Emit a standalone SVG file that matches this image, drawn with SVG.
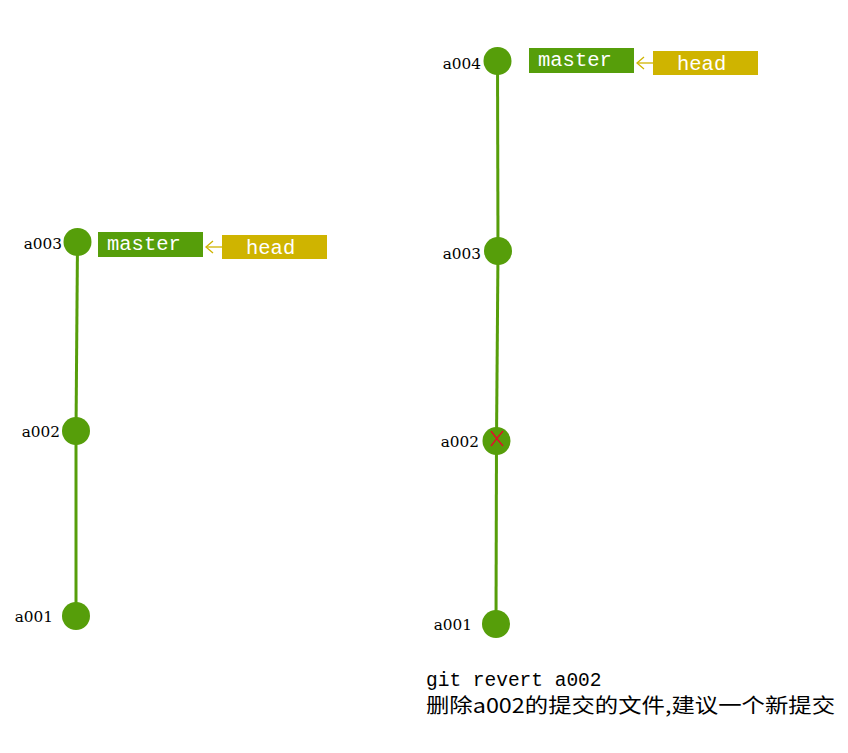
<svg xmlns="http://www.w3.org/2000/svg" width="848" height="753" viewBox="0 0 848 753">
<defs>
<style>
.commit{fill:#569e0a}
.edge{stroke:#569e0a;stroke-width:3;fill:none}
.lbl{font-family:"DejaVu Serif","Liberation Serif",serif;font-size:15.3px;fill:#000}
.master{fill:#569e0a}
.head{fill:#cfb400}
.btxt{font-family:"Liberation Mono",monospace;font-size:20.5px;fill:#fff}
.ptr{stroke:#cfb400;stroke-width:1.3;fill:none}
.note{font-family:"Liberation Mono",monospace;font-size:19.5px;fill:#000}
.cn{font-family:"Noto Sans CJK SC","Liberation Sans",sans-serif;font-size:20px;fill:#000}
</style>
<marker id="openArrow" viewBox="0 0 10 14" refX="8" refY="7" markerWidth="10" markerHeight="14" markerUnits="userSpaceOnUse" orient="auto">
<path d="M1,1 L8,7 L1,13" stroke="#cfb400" stroke-width="1.3" fill="none"/>
</marker>
</defs>
<rect width="848" height="753" fill="#fff"/>
<g id="connectors">
<line class="edge" x1="77.5" y1="242" x2="76" y2="431"/>
<line class="edge" x1="76" y1="431" x2="76" y2="616"/>
<line class="edge" x1="497.5" y1="61" x2="498" y2="251"/>
<line class="edge" x1="498" y1="251" x2="496.5" y2="441"/>
<line class="edge" x1="496.5" y1="441" x2="496" y2="624"/>
<line class="ptr" x1="222" y1="247" x2="206" y2="247" marker-end="url(#openArrow)"/>
<line class="ptr" x1="653" y1="63" x2="637" y2="63" marker-end="url(#openArrow)"/>
</g>
<g id="left-a003">
<circle class="commit" cx="77.5" cy="242" r="14"/>
<text class="lbl" x="62" y="249" text-anchor="end">a003</text>
</g>
<g id="left-a002">
<circle class="commit" cx="76" cy="431" r="14"/>
<text class="lbl" x="60" y="437" text-anchor="end">a002</text>
</g>
<g id="left-a001">
<circle class="commit" cx="76" cy="616" r="14"/>
<text class="lbl" x="53" y="622" text-anchor="end">a001</text>
</g>
<g id="left-master">
<rect class="master" x="98" y="232" width="105" height="25"/>
<text class="btxt" x="107" y="250">master</text>
</g>
<g id="left-head">
<rect class="head" x="222" y="235" width="105" height="24"/>
<text class="btxt" x="246" y="254">head</text>
</g>
<g id="right-a004">
<circle class="commit" cx="497.5" cy="61" r="14"/>
<text class="lbl" x="481" y="69" text-anchor="end">a004</text>
</g>
<g id="right-a003">
<circle class="commit" cx="498" cy="251" r="14"/>
<text class="lbl" x="481" y="259" text-anchor="end">a003</text>
</g>
<g id="right-a002">
<circle class="commit" cx="496.5" cy="441" r="14"/>
<text class="lbl" x="479" y="447" text-anchor="end">a002</text>
<path d="M491,431 Q496,438 503,446 M503,431 Q497,438 491,446" stroke="#e0102a" stroke-width="1.5" fill="none"/>
</g>
<g id="right-a001">
<circle class="commit" cx="496" cy="624" r="14"/>
<text class="lbl" x="472" y="630" text-anchor="end">a001</text>
</g>
<g id="right-master">
<rect class="master" x="529" y="48" width="105" height="25"/>
<text class="btxt" x="538" y="66">master</text>
</g>
<g id="right-head">
<rect class="head" x="653" y="51" width="105" height="24"/>
<text class="btxt" x="677" y="70">head</text>
</g>
<g id="note">
<text class="note" x="426" y="686">git revert a002</text>
<text class="cn" x="426" y="713" textLength="409" lengthAdjust="spacingAndGlyphs">删除a002的提交的文件,建议一个新提交</text>
</g>
</svg>
